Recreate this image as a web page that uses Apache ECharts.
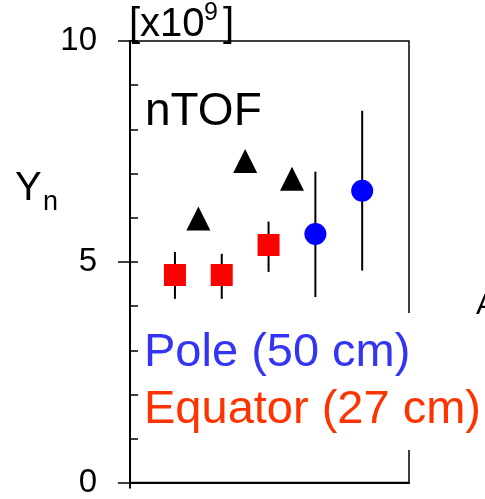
<!DOCTYPE html>
<html><head><meta charset="utf-8">
<script src="https://cdn.jsdelivr.net/npm/echarts@6/dist/echarts.min.js"></script>
<style>html,body{margin:0;padding:0;background:#fff}#c{width:485px;height:499px}</style>
</head><body><div id="c"></div>
<script>
// Data (slot index on a hidden x axis, yield in units of 1e9)
const equatorX = [1, 3, 5];
const equatorY = [4.7, 4.7, 5.38];
const equatorLow = [4.16, 4.16, 4.77];
const equatorHigh = [5.22, 5.18, 5.91];
const ntofX = [2, 4, 6];
const ntofY = [5.98, 7.28, 6.88];
const poleX = [7, 9];
const poleY = [5.63, 6.61];
const poleLow = [4.2, 4.8];
const poleHigh = [7.04, 8.42];
const yMajorTicks = [0, 5, 10];

const FONT = "'Liberation Sans', Arial, Helvetica, sans-serif";
const X_MIN = -0.92, X_MAX = 11;

const pairs = (xs, ys) => xs.map((x, i) => [x, ys[i]]);
const errs = (xs, lo, hi) => xs.map((x, i) => [x, lo[i], hi[i]]);

function errorBar(params, api) {
  const x = api.value(0);
  const a = api.coord([x, api.value(1)]);
  const b = api.coord([x, api.value(2)]);
  return { type: 'line', shape: { x1: a[0], y1: a[1], x2: b[0], y2: b[1] },
           style: { stroke: '#000', lineWidth: 2 } };
}

const chart = echarts.init(document.getElementById('c'), null, { renderer: 'canvas' });
const gridRect = { left: 130, top: 41, width: 279, height: 442 };

chart.setOption({
  animation: false,
  backgroundColor: '#fff',
  grid: [
    Object.assign({ show: true, borderColor: '#000', borderWidth: 1.5, backgroundColor: 'transparent' }, gridRect),
    Object.assign({ show: false }, gridRect)
  ],
  xAxis: [
    { type: 'value', gridIndex: 0, min: X_MIN, max: X_MAX, position: 'bottom',
      axisLine: { show: true, onZero: false, lineStyle: { color: '#000', width: 2 } },
      axisTick: { show: true, customValues: [X_MIN], length: 6, lineStyle: { color: '#000', width: 2 } },
      axisLabel: { show: false }, splitLine: { show: false } },
    { type: 'value', gridIndex: 1, min: X_MIN, max: X_MAX, show: false,
      axisLine: { onZero: false } }
  ],
  yAxis: [
    { type: 'value', gridIndex: 0, min: 0, max: 10, interval: 5, position: 'left',
      axisLine: { show: true, onZero: false, lineStyle: { color: '#000', width: 2 } },
      axisTick: { show: true, inside: false, length: 12, lineStyle: { color: '#000', width: 1.5 } },
      axisLabel: { show: true, color: '#000', fontSize: 33, fontFamily: FONT, margin: 33,
                   customValues: yMajorTicks },
      splitLine: { show: false } },
    { type: 'value', gridIndex: 1, min: 0, max: 10, interval: 1, position: 'left',
      axisLine: { show: false, onZero: false },
      axisTick: { show: true, inside: true, length: 8, lineStyle: { color: '#000', width: 1.5 } },
      axisLabel: { show: false }, splitLine: { show: false } }
  ],
  series: [
    { type: 'custom', xAxisIndex: 0, yAxisIndex: 0, renderItem: errorBar, z: 1,
      data: errs(equatorX, equatorLow, equatorHigh) },
    { type: 'custom', xAxisIndex: 0, yAxisIndex: 0, renderItem: errorBar, z: 1,
      data: errs(poleX, poleLow, poleHigh) },
    { type: 'scatter', name: 'Equator', symbol: 'rect', symbolSize: 22, z: 3,
      itemStyle: { color: '#ff0000', opacity: 1 }, data: pairs(equatorX, equatorY) },
    { type: 'scatter', name: 'nTOF', symbol: 'triangle', symbolSize: 24, z: 3,
      itemStyle: { color: '#000', opacity: 1 }, data: pairs(ntofX, ntofY) },
    { type: 'scatter', name: 'Pole', symbol: 'circle', symbolSize: 22, z: 3,
      itemStyle: { color: '#0000ff', opacity: 1 }, data: pairs(poleX, poleY) }
  ],
  graphic: [
    { type: 'rect', z: 50, shape: { x: 140, y: 313, width: 345, height: 137 }, style: { fill: '#fff' } },
    { type: 'text', z: 60, x: 145, y: 112, style: { text: 'nTOF', fill: '#000', font: '46px ' + FONT, verticalAlign: 'middle' } },
    { type: 'text', z: 60, x: 144, y: 353, style: { text: 'Pole (50 cm)', fill: '#3434f4', font: '47px ' + FONT, verticalAlign: 'middle' } },
    { type: 'text', z: 60, x: 144, y: 410, style: { text: 'Equator (27 cm)', fill: '#ff3300', font: '47px ' + FONT, verticalAlign: 'middle' } },
    { type: 'text', z: 60, x: 15, y: 189, style: { text: 'Y', fill: '#000', font: '40px ' + FONT, verticalAlign: 'middle' } },
    { type: 'text', z: 60, x: 43, y: 203, style: { text: 'n', fill: '#000', font: '27px ' + FONT, verticalAlign: 'middle' } },
    { type: 'text', z: 60, x: 129, y: 25, style: { text: '[x10', fill: '#000', font: '40px ' + FONT, verticalAlign: 'middle' } },
    { type: 'text', z: 60, x: 204, y: 13, style: { text: '9', fill: '#000', font: '25px ' + FONT, verticalAlign: 'middle' } },
    { type: 'text', z: 60, x: 223, y: 25, style: { text: ']', fill: '#000', font: '40px ' + FONT, verticalAlign: 'middle' } },
    { type: 'text', z: 60, x: 476, y: 306, style: { text: 'A', fill: '#000', font: '30px ' + FONT, verticalAlign: 'middle' } }
  ]
});
</script></body></html>
